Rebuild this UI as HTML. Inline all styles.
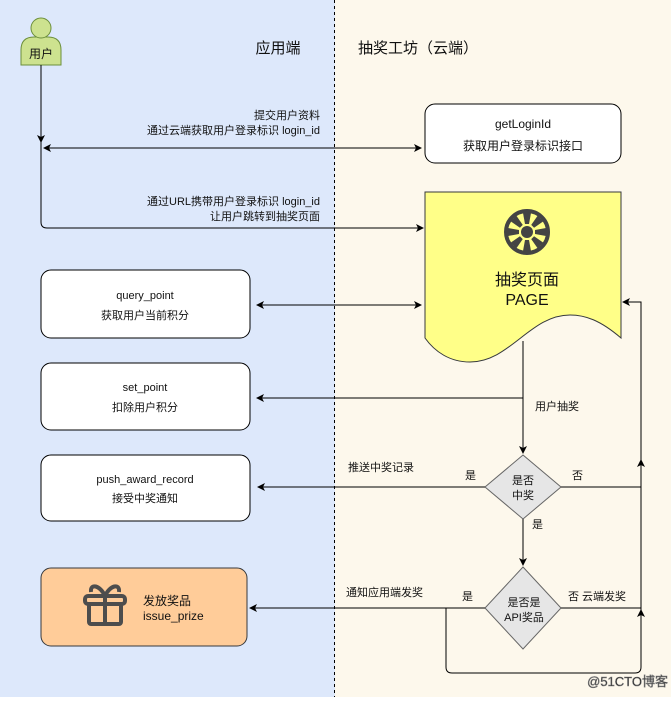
<!DOCTYPE html>
<html><head><meta charset="utf-8"><style>
body{margin:0;width:671px;height:697px;overflow:hidden}
svg text{font-family:"Liberation Sans","Noto Sans CJK SC",sans-serif;fill:#111}
</style></head><body>
<svg width="671" height="697" viewBox="0 0 671 697" xmlns="http://www.w3.org/2000/svg">
<defs><marker id="a" markerWidth="8" markerHeight="8" refX="7" refY="4" orient="auto" markerUnits="userSpaceOnUse"><path d="M0,0 L8,4 L0,8 L2,4Z" fill="#000"/></marker>
<marker id="b" markerWidth="8" markerHeight="8" refX="1" refY="4" orient="auto" markerUnits="userSpaceOnUse"><path d="M8,0 L0,4 L8,8 L6,4Z" fill="#000"/></marker></defs>
<rect x="0" y="0" width="335" height="697" fill="#dde8fb"/>
<rect x="335" y="0" width="336" height="697" fill="#fdf8ec"/>
<line x1="334.5" y1="0" x2="334.5" y2="697" stroke="#000" stroke-dasharray="3,3"/>
<!-- user -->
<path d="M21,65 V50 Q21,37 34,37 H48 Q61,37 61,50 V65 Z" fill="#cde28f" stroke="#6c8f3b"/>
<circle cx="41" cy="28" r="10" fill="#cde28f" stroke="#6c8f3b"/>
<text x="41" y="58" font-size="12" text-anchor="middle">用户</text>
<text x="278" y="53" font-size="15" text-anchor="middle">应用端</text>
<text x="358" y="53" font-size="15">抽奖工坊（云端）</text>
<!-- lines -->
<line x1="41" y1="65" x2="41" y2="142" stroke="#000" marker-end="url(#a)"/>
<path d="M41,140 V222 Q41,228 47,228 H423" fill="none" stroke="#000" marker-end="url(#a)"/>
<line x1="44" y1="148" x2="421" y2="148" stroke="#000" marker-start="url(#b)" marker-end="url(#a)"/>
<text x="320" y="119" font-size="11" text-anchor="end">提交用户资料</text>
<text x="320" y="134" font-size="11" text-anchor="end">通过云端获取用户登录标识 login_id</text>
<text x="320" y="205" font-size="11" text-anchor="end">通过URL携带用户登录标识 login_id</text>
<text x="320" y="220" font-size="11" text-anchor="end">让用户跳转到抽奖页面</text>
<rect x="425" y="104" width="196" height="59" rx="10" fill="#fff" stroke="#000"/>
<text x="523" y="128" font-size="12" text-anchor="middle">getLoginId</text>
<text x="523" y="150" font-size="12" text-anchor="middle">获取用户登录标识接口</text>
<!-- doc -->
<path d="M425,192 H621 V338 C600,320 585,315 570,315 C530,315 510,362 470,362 C450,362 435,352 425,338 Z" fill="#ffff88" stroke="#36393d"/>
<g transform="translate(527,232)"><circle r="21" fill="none" stroke="#444" stroke-width="4"/>
<circle r="6" fill="#444"/>
<g fill="#444"><path d="M-4,-19 L4,-19 L2,-8 L-2,-8Z"/><path d="M-4,-19 L4,-19 L2,-8 L-2,-8Z" transform="rotate(45)"/><path d="M-4,-19 L4,-19 L2,-8 L-2,-8Z" transform="rotate(90)"/><path d="M-4,-19 L4,-19 L2,-8 L-2,-8Z" transform="rotate(135)"/><path d="M-4,-19 L4,-19 L2,-8 L-2,-8Z" transform="rotate(180)"/><path d="M-4,-19 L4,-19 L2,-8 L-2,-8Z" transform="rotate(225)"/><path d="M-4,-19 L4,-19 L2,-8 L-2,-8Z" transform="rotate(270)"/><path d="M-4,-19 L4,-19 L2,-8 L-2,-8Z" transform="rotate(315)"/></g></g>
<text x="527" y="285" font-size="16" text-anchor="middle">抽奖页面</text>
<text x="527" y="305" font-size="16" text-anchor="middle">PAGE</text>
<!-- left boxes -->
<rect x="41" y="270" width="209" height="68" rx="10" fill="#fff" stroke="#000"/>
<text x="145" y="299" font-size="11" text-anchor="middle">query_point</text>
<text x="145" y="319" font-size="11" text-anchor="middle">获取用户当前积分</text>
<line x1="257" y1="305" x2="421" y2="305" stroke="#000" marker-start="url(#b)" marker-end="url(#a)"/>
<rect x="41" y="363" width="209" height="67" rx="10" fill="#fff" stroke="#000"/>
<text x="145" y="391" font-size="11" text-anchor="middle">set_point</text>
<text x="145" y="411" font-size="11" text-anchor="middle">扣除用户积分</text>
<line x1="523" y1="398" x2="257" y2="398" stroke="#000" marker-end="url(#a)"/>
<line x1="523" y1="341" x2="523" y2="453" stroke="#000" marker-end="url(#a)"/>
<text x="535" y="410" font-size="11">用户抽奖</text>
<rect x="41" y="455" width="209" height="66" rx="10" fill="#fff" stroke="#000"/>
<text x="145" y="483" font-size="11" text-anchor="middle">push_award_record</text>
<text x="145" y="502" font-size="11" text-anchor="middle">接受中奖通知</text>
<path d="M523,455 L561,487 L523,519 L485,487Z" fill="#e6e6e6" stroke="#666"/>
<text x="523" y="484" font-size="11" text-anchor="middle">是否</text>
<text x="523" y="499" font-size="11" text-anchor="middle">中奖</text>
<line x1="485" y1="487" x2="258" y2="487" stroke="#000" marker-end="url(#a)"/>
<text x="348" y="471" font-size="11">推送中奖记录</text>
<text x="465" y="479" font-size="11">是</text>
<text x="572" y="479" font-size="11">否</text>
<path d="M561,487 H641 V302 H623" fill="none" stroke="#000" marker-end="url(#a)"/>
<path d="M641,470 V460" stroke="#000" marker-end="url(#a)"/>
<line x1="523" y1="519" x2="523" y2="565" stroke="#000" marker-end="url(#a)"/>
<text x="532" y="528" font-size="11">是</text>
<path d="M523,567 L561,608 L523,649 L485,608Z" fill="#e6e6e6" stroke="#666"/>
<text x="524" y="606" font-size="11" text-anchor="middle">是否是</text>
<text x="524" y="621" font-size="11" text-anchor="middle">API奖品</text>
<rect x="41" y="568" width="206" height="78" rx="10" fill="#ffcc99" stroke="#36393d"/>
<g fill="none" stroke="#4d4d4d" stroke-width="4"><rect x="85" y="596" width="40" height="8" rx="3"/><rect x="89" y="604" width="32" height="20" rx="2"/><line x1="105" y1="596" x2="105" y2="624"/><path d="M105,596 C100,585 90,583 91,592 M105,596 C110,585 120,583 119,592"/></g>
<text x="143" y="605" font-size="12">发放奖品</text>
<text x="143" y="620" font-size="12">issue_prize</text>
<line x1="485" y1="608" x2="250" y2="608" stroke="#000" marker-end="url(#a)"/>
<text x="346" y="596" font-size="11">通知应用端发奖</text>
<text x="462" y="600" font-size="11">是</text>
<text x="568" y="600" font-size="11">否 云端发奖</text>
<path d="M561,608 H641" stroke="#000" fill="none"/>
<path d="M641,620 V610" stroke="#000" marker-end="url(#a)"/>
<path d="M446,608 V667 Q446,673 452,673 H635 Q641,673 641,667 V480" fill="none" stroke="#000"/>
<text x="668" y="686" font-size="13" text-anchor="end" fill="#fff" stroke="#888" stroke-width="0.6">@51CTO博客</text>
</svg>
</body></html>
